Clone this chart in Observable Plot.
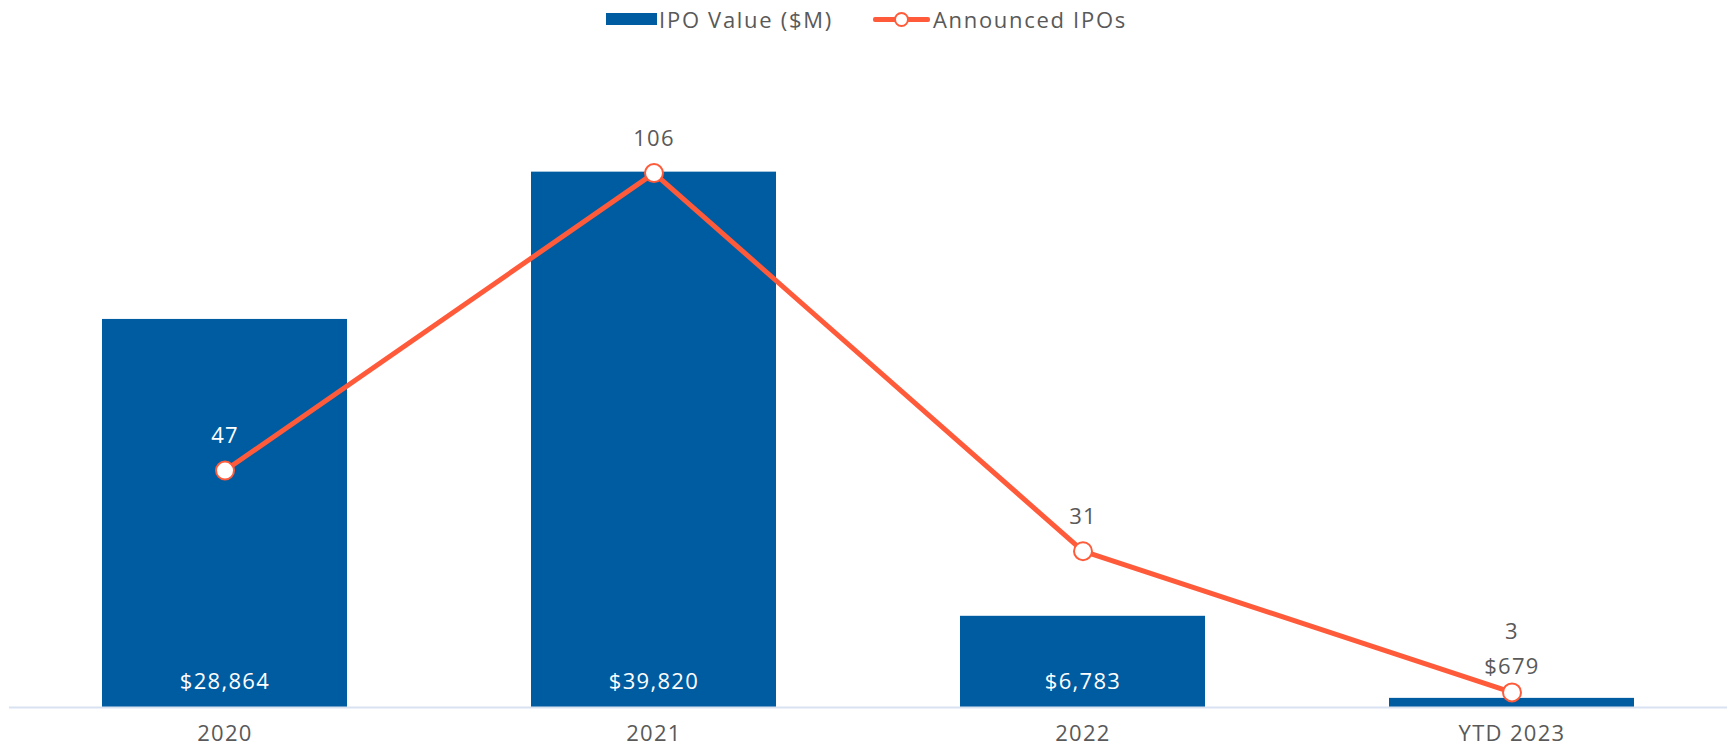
<!DOCTYPE html>
<html>
<head>
<meta charset="utf-8">
<script src="https://cdn.jsdelivr.net/npm/d3@7"></script>
<script src="https://cdn.jsdelivr.net/npm/@observablehq/plot@0.6"></script>
<style>
  html, body { margin: 0; padding: 0; background: #fff; }
  body { width: 1733px; height: 752px; overflow: hidden; font-family: "Open Sans", sans-serif; }
  #legend { height: 38px; display: flex; justify-content: center; align-items: center; font-size: 22px; letter-spacing: 1.7px; color: #595959; }
  .item { display: flex; align-items: center; }
  .sw-bar { width: 51px; height: 12px; background: #005CA1; margin-right: 2px; }
  .sw-line { position: relative; width: 57px; height: 20px; margin-right: 3px; }
  .sw-line .ln { position: absolute; left: 0; right: 0; top: 8px; height: 5px; background: #FF5B3A; border-radius: 2px; }
  .sw-line .pt { position: absolute; left: 21px; top: 3px; width: 11px; height: 11px; border-radius: 50%; background: #fff; border: 2px solid #FF5B3A; }
  #chart svg { display: block; }
</style>
</head>
<body>
<div id="legend">
  <div class="item" style="margin-right:40px"><div class="sw-bar"></div><span>IPO Value ($M)</span></div>
  <div class="item"><div class="sw-line"><div class="ln"></div><div class="pt"></div></div><span>Announced IPOs</span></div>
</div>
<div id="chart"></div>
<script>
const categories = ["2020", "2021", "2022", "YTD 2023"];
const ipoValue = [28864, 39820, 6783, 679];
const announcedIPOs = [47, 106, 31, 3];
const valueMax = 45000;
const countMax = 120;

const BLUE = "#005CA1";
const ORANGE = "#FF5B3A";
const GRAY = "#595959";

const data = categories.map((c, i) => ({
  cat: c,
  value: ipoValue[i],
  count: announcedIPOs[i],
  countY: announcedIPOs[i] * valueMax / countMax
}));

const fmtMoney = v => "$" + d3.format(",")(v);
const inside = d => d.value > 5000;
const lineLabelWhite = d => d.countY + 3000 < d.value;
const raised = d => !inside(d) && Math.abs(d.countY - d.value) < 3000;

const chart = Plot.plot({
  width: 1733,
  height: 714,
  marginTop: 64,
  marginBottom: 45,
  marginLeft: 9,
  marginRight: 6,
  style: { fontFamily: "Open Sans", fontSize: "22px", color: GRAY, background: "white", letterSpacing: "1.3px" },
  x: { domain: categories, paddingInner: 0.43, paddingOuter: 0.215, label: null },
  y: { domain: [0, valueMax], axis: null },
  marks: [
    Plot.barY(data, { x: "cat", y: "value", fill: BLUE }),
    Plot.ruleY([0], { stroke: "#d9e2f1", strokeWidth: 2 }),
    Plot.axisX({ tickSize: 0, tickPadding: 18, fontSize: 22, fill: GRAY, label: null }),
    Plot.line(data, { x: "cat", y: "countY", stroke: ORANGE, strokeWidth: 5 }),
    Plot.dot(data, { x: "cat", y: "countY", r: 9, fill: "white", stroke: ORANGE, strokeWidth: 2 }),
    Plot.text(data.filter(inside), { x: "cat", y: () => 0, text: d => fmtMoney(d.value), dy: -26, fill: "white", fontSize: 22 }),
    Plot.text(data.filter(d => !inside(d)), { x: "cat", y: "value", text: d => fmtMoney(d.value), dy: -31, fill: GRAY, fontSize: 22 }),
    Plot.text(data.filter(d => lineLabelWhite(d) && !raised(d)), { x: "cat", y: "countY", text: d => String(d.count), dy: -35, fill: "white", fontSize: 22 }),
    Plot.text(data.filter(d => !lineLabelWhite(d) && !raised(d)), { x: "cat", y: "countY", text: d => String(d.count), dy: -34, fill: GRAY, fontSize: 22 }),
    Plot.text(data.filter(raised), { x: "cat", y: "countY", text: d => String(d.count), dy: -60, fill: GRAY, fontSize: 22 })
  ]
});
document.getElementById("chart").appendChild(chart);
</script>
</body>
</html>
